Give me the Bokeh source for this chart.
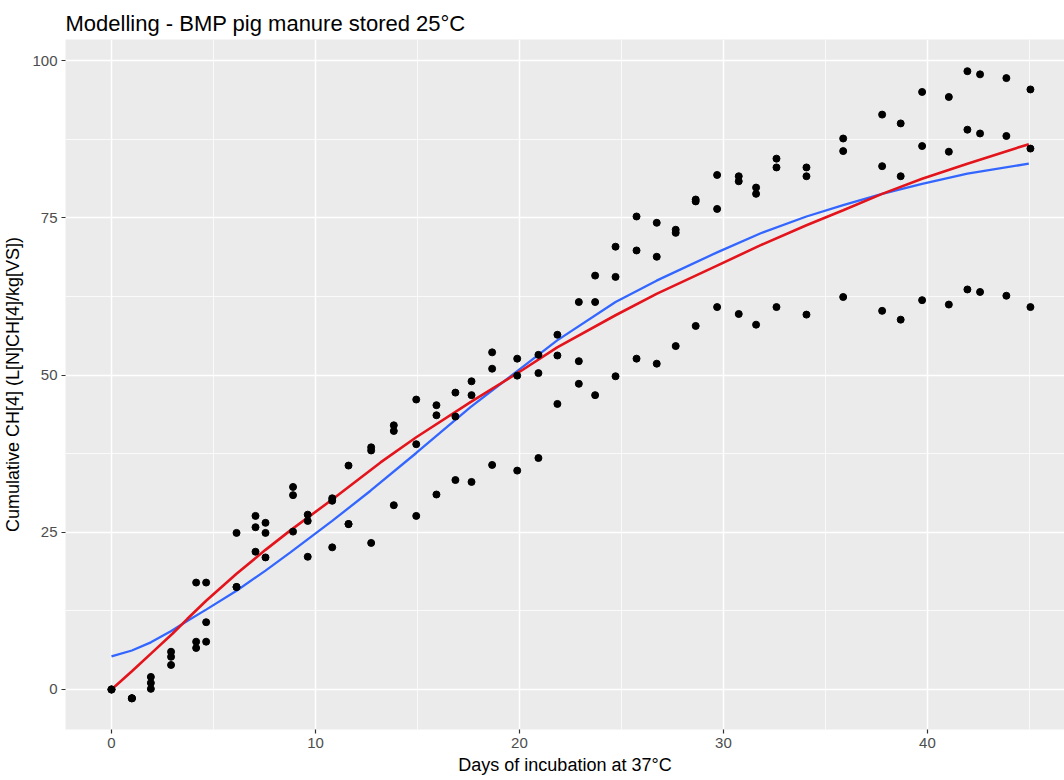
from bokeh.plotting import figure
from bokeh.models import Range1d, FixedTicker, Title
from bokeh.embed import file_html
from bokeh.resources import INLINE

# ---- data ----
days = [0, 1.0, 1.93, 2.92, 4.15, 4.64, 6.13, 7.06, 7.55, 8.9, 9.62, 10.82, 11.62, 12.73,
        13.84, 14.94, 15.93, 16.86, 17.65, 18.66, 19.89, 20.93, 21.86, 22.91, 23.71, 24.71,
        25.74, 26.73, 27.66, 28.64, 29.69, 30.75, 31.6, 32.6, 34.07, 35.87, 37.78, 38.69,
        39.74, 41.05, 41.96, 42.58, 43.87, 45.05]
rep_a = [0, -1.4, 2.0, 6.0, 17.0, 17.0, 24.9, 27.6, 26.5, 32.2, 27.8, 30.4, 35.6, 38.5,
         42.0, 46.1, 45.2, 47.2, 49.0, 53.6, 52.6, 53.2, 56.4, 61.6, 65.8, 70.4,
         75.2, 74.2, 73.1, 77.9, 81.8, 81.6, 79.8, 84.4, 83.0, 87.6, 91.4, 90.0,
         95.0, 94.2, 98.3, 97.8, 97.2, 95.4]
rep_b = [0, -1.4, 1.05, 5.2, 7.6, 10.7, 16.3, 25.8, 24.9, 30.9, 26.8, 30.0, 26.3, 38.0,
         41.1, 39.0, 43.6, 43.4, 46.8, 51.0, 49.9, 50.3, 53.1, 52.2, 61.6, 65.6,
         69.8, 68.8, 72.6, 77.6, 76.4, 80.8, 78.8, 83.0, 81.6, 85.6, 83.2, 81.6,
         86.4, 85.5, 89.0, 88.4, 88.0, 86.0]
rep_c = [0, -1.4, 0.1, 3.9, 6.6, 7.6, 16.3, 21.9, 21.0, 25.1, 21.1, 22.6, 26.3, 23.3,
         29.3, 27.6, 31.0, 33.3, 33.0, 35.7, 34.8, 36.8, 45.4, 48.6, 46.8, 49.8,
         52.6, 51.8, 54.6, 57.8, 60.8, 59.7, 58.0, 60.8, 59.6, 62.4, 60.2, 58.8,
         61.9, 61.2, 63.6, 63.2, 62.6, 60.8]

model_x = [0, 1, 2, 3, 3.71, 4.64, 6.13, 7.55, 8.77, 10.82, 13.19, 14.94, 17.6, 20.05,
           21.85, 24.71, 26.72, 29.69, 31.8, 34.07, 35.87, 37.78, 39.74, 41.96, 44.97]
model_y = [0, 2.9, 5.9, 8.9, 11.2, 14.1, 18.4, 22.2, 25.3, 30.2, 36.1, 40.1, 45.7, 50.6,
           54.4, 59.5, 62.9, 67.4, 70.6, 73.8, 76.2, 78.8, 81.2, 83.6, 86.7]

smooth_x = [0, 1, 1.93, 2.93, 3.71, 4.64, 6.13, 7.55, 8.77, 10.82, 12.7, 14.94, 17.6,
            20.05, 21.85, 24.71, 26.72, 29.69, 31.8, 34.07, 35.87, 37.78, 39.74, 41.96, 44.97]
smooth_y = [5.25, 6.2, 7.5, 9.3, 10.9, 12.7, 15.7, 18.9, 21.8, 26.8, 31.6, 37.6, 44.9,
            51.0, 55.5, 61.6, 65.0, 69.5, 72.5, 75.2, 77.0, 78.8, 80.4, 82.0, 83.6]

x_ticks = [0, 10, 20, 30, 40]
x_minor = [-5, 5, 15, 25, 35, 45]
y_ticks = [0, 25, 50, 75, 100]
y_minor = [-12.5, 12.5, 37.5, 62.5, 87.5]

title_text = "Modelling - BMP pig manure stored 25\u00b0C"
x_label = "Days of incubation at 37\u00b0C"
y_label = "Cumulative CH[4] (L[N]CH[4]/kg[VS])"

FONT = "Liberation Sans"

p = figure(width=1064, height=780, output_backend="svg", toolbar_location=None,
           x_range=Range1d(-2.255, 46.72), y_range=Range1d(-6.36, 103.34),
           min_border_left=65, min_border_right=0, min_border_top=39, min_border_bottom=51)
p.title = Title(text=title_text, text_font=FONT, text_font_size="22px",
                text_font_style="normal", text_color="#000000", align="left",
                standoff=8)

p.background_fill_color = "#EBEBEB"
p.border_fill_color = "white"
p.outline_line_color = None

p.xaxis.ticker = FixedTicker(ticks=x_ticks, minor_ticks=x_minor)
p.yaxis.ticker = FixedTicker(ticks=y_ticks, minor_ticks=y_minor)

for ax in (p.xaxis[0], p.yaxis[0]):
    ax.axis_line_color = None
    ax.major_tick_line_color = "#333333"
    ax.major_tick_line_width = 1.2
    ax.major_tick_out = 4
    ax.major_tick_in = 0
    ax.minor_tick_line_color = None
    ax.major_label_text_font = FONT
    ax.major_label_text_font_size = "15px"
    ax.major_label_text_color = "#4D4D4D"
    ax.major_label_standoff = 4
    ax.axis_label_text_font = FONT
    ax.axis_label_text_font_size = "18px"
    ax.axis_label_text_font_style = "normal"
    ax.axis_label_text_color = "#000000"

p.xaxis.axis_label = x_label
p.yaxis.axis_label = y_label
p.xaxis.axis_label_standoff = 4
p.yaxis.axis_label_standoff = 6

for g in (p.xgrid[0], p.ygrid[0]):
    g.grid_line_color = "white"
    g.grid_line_width = 1.5
    g.minor_grid_line_color = "white"
    g.minor_grid_line_width = 0.75

p.line(smooth_x, smooth_y, line_color="#3366FF", line_width=2.3)
p.line(model_x, model_y, line_color="#E3141B", line_width=2.6)

all_x = days + days + days
all_y = rep_a + rep_b + rep_c
p.scatter(all_x, all_y, size=7, color="black")

open("out.html", "w").write(file_html(p, INLINE))
